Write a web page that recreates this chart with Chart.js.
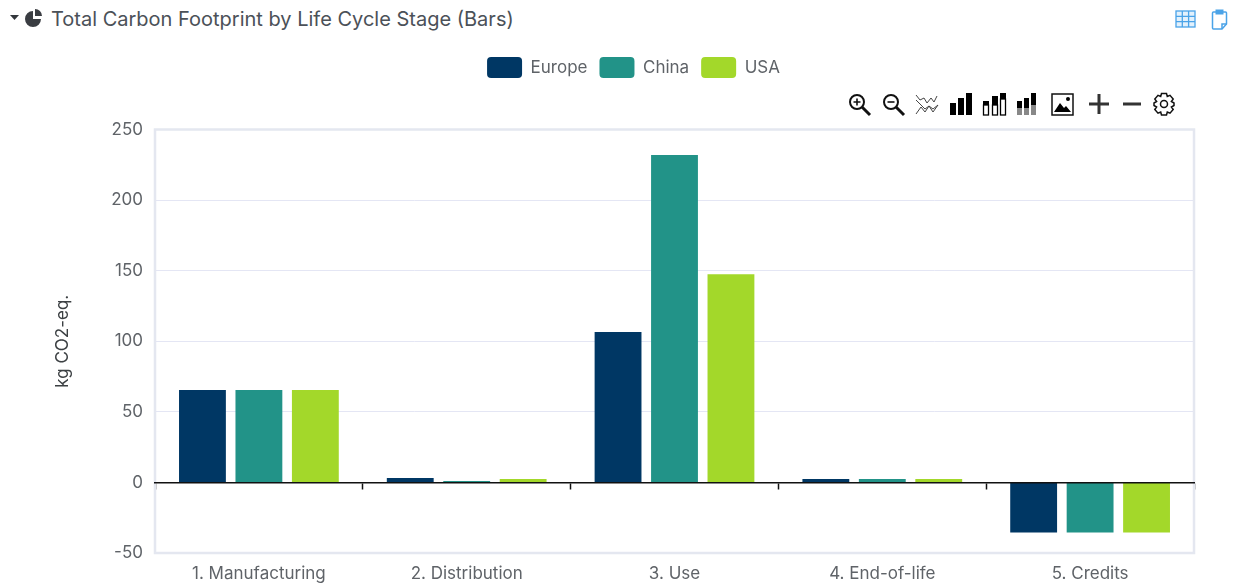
<!DOCTYPE html>
<html>
<head>
<meta charset="utf-8">
<script src="https://cdn.jsdelivr.net/npm/chart.js@4"></script>
<style>
  html, body { margin: 0; padding: 0; background: #fff; overflow: hidden; }
  body { width: 1235px; height: 584px; position: relative; font-family: Inter, sans-serif; }
  .panel-title { position: absolute; left: 51px; top: 7px; font-size: 20px; line-height: 24px; color: #4b5158; white-space: nowrap; }
  svg { position: absolute; overflow: visible; }
  #chartBox { position: absolute; left: 31px; top: 50px; width: 1204px; height: 534px; }
</style>
</head>
<body>
<!-- panel header -->
<svg style="left:9px;top:14px" width="12" height="8"><path d="M1 1h9L5.500 6z" fill="#33373c"/></svg>
<svg style="left:24px;top:8px" width="20" height="20" viewBox="0 0 20 20">
  <path d="M9 3a8 8 0 1 0 8 8h-8z" fill="#3a3d42"/>
  <path d="M11 1a7 7 0 0 1 7 7h-7z" fill="#3a3d42"/>
</svg>
<div class="panel-title">Total Carbon Footprint by Life Cycle Stage (Bars)</div>
<svg style="left:1175px;top:10px" width="21" height="18" fill="none" stroke="#4aa3e8" stroke-width="1.3">
  <rect x="1" y="1" width="19" height="16" fill="#e3f1fc"/>
  <path d="M1 6.300h19M1 11.600h19M7.300 1v16M13.600 1v16"/>
</svg>
<svg style="left:1211px;top:8px" width="17" height="22" fill="none" stroke="#4aa3e8" stroke-width="1.5">
  <path d="M5 4H2.500a1 1 0 0 0-1 1v15a1 1 0 0 0 1 1H11l4.500-5V5a1 1 0 0 0-1-1H12"/>
  <rect x="5" y="2" width="7" height="4" fill="#4aa3e8" stroke-width="1"/>
  <path d="M11 21v-5h4.500"/>
</svg>

<div id="chartBox"><canvas id="stageChart"></canvas></div>

<!-- chart toolbar -->
<svg style="left:847px;top:92px" width="330" height="26" viewBox="0 0 330 26" fill="none" stroke="#111" stroke-width="2">
  <circle cx="10" cy="10" r="7"/><path d="M15 15l8 8" stroke-width="3"/><path d="M6.500 10h7M10 6.500v7" stroke-width="1.600"/>
  <circle cx="44" cy="10" r="7"/><path d="M49 15l8 8" stroke-width="3"/><path d="M40.500 10h7" stroke-width="1.600"/>
  <path d="M69 3l4 5 4-2 3 5 4-5 3 4 3-6M69 22l5-7 4 5 4-6 4 6 5-7M69 8l5 5 4 4 4-3 4 3 5-4" stroke-width="1" stroke="#444"/>
  <g fill="#000" stroke="none">
    <rect x="103" y="11" width="6" height="12"/><rect x="111" y="6" width="6" height="17"/><rect x="119" y="1" width="6" height="22"/>
    <rect x="136" y="9" width="6" height="4"/><rect x="145" y="4" width="6" height="9"/><rect x="153" y="1" width="6" height="6"/>
    <rect x="170" y="9" width="5" height="7"/><rect x="177" y="6" width="5" height="10"/><rect x="184" y="1" width="5" height="12"/>
    <rect x="170" y="16" width="5" height="7" fill="#888"/><rect x="177" y="16" width="5" height="7" fill="#888"/><rect x="184" y="13" width="5" height="10" fill="#888"/>
    <path d="M207 20l6-9 4 5 2-2 5 6z"/>
  </g>
  <g stroke="#000" stroke-width="1.300">
    <rect x="136.500" y="13" width="5" height="10"/><rect x="145.500" y="13" width="5" height="10"/><rect x="153.500" y="7" width="5" height="16"/>
  </g>
  <rect x="205" y="2" width="21" height="21" stroke-width="1.500"/><circle cx="221" cy="7" r="2" fill="#000" stroke="none"/>
  <path d="M242 12h20M252 2v20M276 12h18" stroke="#333" stroke-width="3"/>
  <circle cx="317" cy="12" r="3.500" stroke-width="1.500"/>
  <path d="M314.500 1.500h5l.8 3 2.700-1.200 3.200 3.700-1.800 2.500 2.600 1.500v2.500l-2.600 1.500 1.800 2.500-3.200 3.700-2.700-1.200-.8 3h-5l-.8-3-2.700 1.200-3.200-3.700 1.800-2.500-2.600-1.500V11l2.600-1.500-1.800-2.500 3.200-3.700 2.700 1.200z" stroke-width="1.500"/>
</svg>

<script>
const categories = ['1. Manufacturing', '2. Distribution', '3. Use', '4. End-of-life', '5. Credits'];
const europe = [65.5, 3.2, 106.5, 2.5, -35.5];
const china = [65.5, 1, 232, 2.5, -35.5];
const usa = [65.5, 2.5, 147.5, 2.5, -35.5];

const textColor = '#5f6368';
const frameColor = '#e4e7f0';

// frame around the plot area
const plotFrame = {
  id: 'plotFrame',
  beforeDatasetsDraw(chart) {
    const a = chart.chartArea;
    const c = chart.ctx;
    c.save();
    c.strokeStyle = frameColor;
    c.lineWidth = 2.5;
    c.strokeRect(a.left, a.top, a.right - a.left, a.bottom - a.top);
    c.restore();
  }
};

// leaves room under the legend for the toolbar and centres it on the canvas
const legendSpace = {
  id: 'legendSpace',
  beforeLayout(chart) {
    const legend = chart.legend;
    if (legend.spaced) return;
    const fit = legend.fit;
    legend.fit = function() {
      fit.call(this);
      this.height = 79.5;
    };
    legend.spaced = true;
  },
  afterLayout(chart) {
    const legend = chart.legend;
    legend.left += 12;
    legend.right += 12;
    legend.top -= 5;
  }
};

function makeSeries(label, values, color) {
  return {
    label: label,
    data: values,
    backgroundColor: color,
    categoryPercentage: 0.815,
    barPercentage: 0.83
  };
}

new Chart(document.getElementById('stageChart'), {
  type: 'bar',
  data: {
    labels: categories,
    datasets: [
      makeSeries('Europe', europe, '#003764'),
      makeSeries('China', china, '#229388'),
      makeSeries('USA', usa, '#a3d82a')
    ]
  },
  plugins: [plotFrame, legendSpace],
  options: {
    responsive: true,
    maintainAspectRatio: false,
    animation: false,
    layout: { padding: { left: 18, right: 41, top: 0, bottom: 0 } },
    plugins: {
      tooltip: { enabled: false },
      legend: {
        position: 'top',
        labels: {
          boxWidth: 35,
          boxHeight: 21,
          useBorderRadius: true,
          borderRadius: 4,
          color: textColor,
          padding: 12,
          font: { family: 'Inter', size: 17 }
        }
      }
    },
    scales: {
      x: {
        afterFit(scale) { scale.height = 31; },
        grid: { display: false },
        border: { display: false },
        ticks: { color: textColor, padding: 3, font: { family: 'Inter', size: 17 }, maxRotation: 0 }
      },
      // zero baseline with its category ticks
      xZero: {
        type: 'category',
        labels: categories,
        position: { y: 0 },
        offset: true,
        grid: { drawOnChartArea: false, drawTicks: true, tickLength: 6, tickColor: '#111', tickWidth: 1.5 },
        border: { display: true, color: '#111', width: 1.5, z: 1 },
        ticks: { display: false }
      },
      y: {
        min: -50,
        max: 250,
        afterFit(scale) { scale.width = 106; },
        grid: { color: '#e4e6f4', lineWidth: 1, drawTicks: false },
        border: { display: false },
        ticks: { stepSize: 50, color: textColor, padding: 12, font: { family: 'Inter', size: 17 } },
        title: { display: true, text: 'kg CO2-eq.', color: '#3c4043', font: { family: 'Inter', size: 17 } }
      }
    }
  }
});
</script>
</body>
</html>
